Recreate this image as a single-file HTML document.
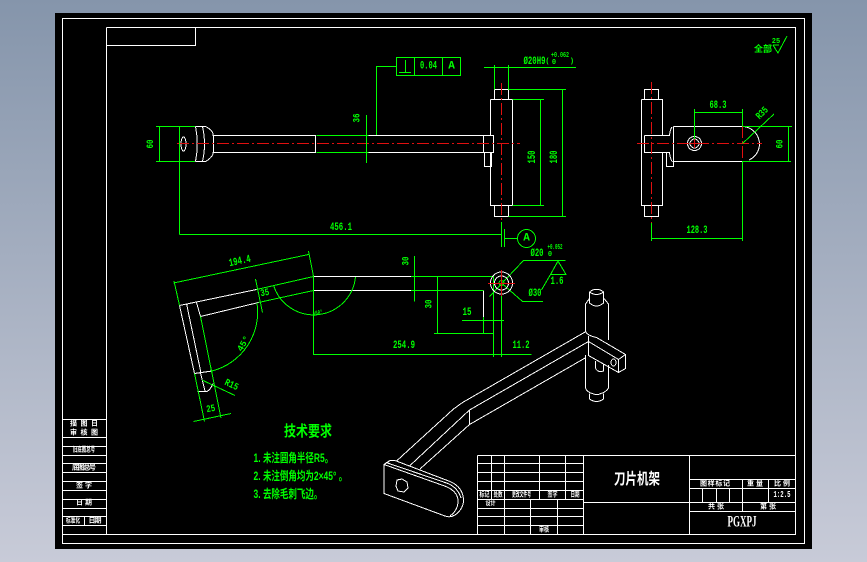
<!DOCTYPE html>
<html><head><meta charset="utf-8"><style>
html,body{margin:0;padding:0;width:867px;height:562px;overflow:hidden}
svg{display:block}
.w,.g,.r,.rs{fill:none;stroke-width:1;shape-rendering:crispEdges}
.w{stroke:#fff}.g{stroke:#0f0}.r{stroke:#e01010;stroke-dasharray:12 3 2 3}.rs{stroke:#e01010}
text{font-family:"Liberation Mono","Noto Sans CJK SC",monospace;text-anchor:middle;dominant-baseline:central}
.d{fill:#0f0;font-size:11px;font-weight:bold}
.s{fill:#0f0;font-size:7px;font-weight:bold}
.t{fill:#fff;font-family:"Liberation Sans","Noto Sans CJK SC",sans-serif;font-size:7px;font-weight:bold}
.c{fill:#0f0;font-family:"Liberation Sans","Noto Sans CJK SC",sans-serif;font-weight:bold;text-anchor:start}
</style></head><body>
<svg width="867" height="562" viewBox="0 0 867 562" xmlns="http://www.w3.org/2000/svg">
<defs><linearGradient id="bg" x1="0" y1="0" x2="0" y2="1"><stop offset="0" stop-color="#8595ab"/><stop offset="1" stop-color="#c8cbd8"/></linearGradient></defs>
<rect width="867" height="562" fill="url(#bg)"/>
<rect x="55" y="13" width="757" height="536" fill="#000"/>

<!-- frames -->
<path class="w" d="M62.5 18.5H804.5V543.5H62.5ZM106.5 27.5H795.5V534.5H62.5M106.5 27.5V534.5M106.5 45.5H195.5V27.5"/>
<!-- left table -->
<path class="w" d="M62.5 419.5H106.5M62.5 437.5H106.5M62.5 446.5H106.5M62.5 455.5H106.5M62.5 463.5H106.5M62.5 472.5H106.5M62.5 481.5H106.5M62.5 490.5H106.5M62.5 499.5H106.5M62.5 508.5H106.5M62.5 516.5H106.5M62.5 525.5H106.5M84.5 516.5V525.5"/>
<text class="t" x="84" y="424" textLength="28" lengthAdjust="spacing">描 图 日</text>
<text class="t" x="84" y="433" textLength="28" lengthAdjust="spacing">审 核 图</text>
<text class="t" x="84" y="450" textLength="22" lengthAdjust="spacingAndGlyphs">旧底图总号</text>
<text class="t" x="84" y="468" textLength="24" lengthAdjust="spacing">底图总号</text>
<text class="t" x="84" y="486">签 字</text>
<text class="t" x="84" y="503">日 期</text>
<text class="t" x="73" y="521" textLength="14" lengthAdjust="spacingAndGlyphs">标准化</text>
<text class="t" x="95" y="521" textLength="13" lengthAdjust="spacing">日期</text>

<!-- title block -->
<path class="w" d="M477.5 455.5H795.5M477.5 455.5V534.5M477.5 463.5H583.5M477.5 472.5H583.5M477.5 481.5H583.5M477.5 490.5H583.5M477.5 499.5H583.5M477.5 508.5H583.5M477.5 516.5H583.5M477.5 525.5H583.5M491.5 455.5V499.5M504.5 455.5V534.5M539.5 455.5V499.5M565.5 455.5V499.5M530.5 499.5V534.5M557.5 499.5V534.5M583.5 455.5V534.5M689.5 455.5V534.5M583.5 502.5H795.5M689.5 479.5H795.5M689.5 488.5H795.5M689.5 511.5H795.5M742.5 479.5V511.5M768.5 479.5V502.5M702.5 488.5V502.5M716.5 488.5V502.5M729.5 488.5V502.5"/>
<text class="t" x="484.5" y="495" textLength="10" lengthAdjust="spacingAndGlyphs">标记</text>
<text class="t" x="498" y="495" textLength="9" lengthAdjust="spacingAndGlyphs">处数</text>
<text class="t" x="521.5" y="495" textLength="19" lengthAdjust="spacingAndGlyphs">更改文件号</text>
<text class="t" x="552.5" y="495" textLength="10" lengthAdjust="spacingAndGlyphs">签字</text>
<text class="t" x="575" y="495" textLength="9" lengthAdjust="spacingAndGlyphs">日期</text>
<text class="t" x="490.5" y="503.5" textLength="10" lengthAdjust="spacingAndGlyphs">设计</text>
<text class="t" x="544" y="530" textLength="10" lengthAdjust="spacingAndGlyphs">审核</text>
<text class="t" x="715" y="484" textLength="30" lengthAdjust="spacing">图样标记</text>
<text class="t" x="755" y="484" textLength="16" lengthAdjust="spacing">重量</text>
<text class="t" x="782" y="484" textLength="16" lengthAdjust="spacing">比例</text>
<text class="t" x="782" y="495" style="font-family:'Liberation Mono';font-size:9px" textLength="17" lengthAdjust="spacingAndGlyphs">1:2.5</text>
<text class="t" x="716" y="507" textLength="16" lengthAdjust="spacing">共张</text>
<text class="t" x="768" y="507" textLength="16" lengthAdjust="spacing">第张</text>
<text transform="translate(637 479) scale(1 1.35)" fill="#fff" style="font-family:'Liberation Sans','Noto Sans CJK SC',sans-serif;font-size:11.5px;font-weight:bold">刀片机架</text>
<text x="742" y="522" fill="#fff" style="font-family:'Liberation Serif',serif;font-size:16px;font-weight:bold" textLength="29" lengthAdjust="spacingAndGlyphs">PGXPJ</text>

<!-- front view -->
<path class="w" d="M212.5 135.5H315.5V152.5H212.5M368.5 135.5H483.5M368.5 152.5H483.5M483.5 135.5H493.5V152.5H483.5ZM484.5 152.5V166.5H491.5V152.5M490.5 99.5H512.5V205.5H490.5V152.5M490.5 135.5V99.5M494.5 99.5V89.5H508.5V99.5M494.5 205.5V216.5H508.5V205.5"/>
<path class="w" d="M195.5 126.5H205.5Q213.5 130 213.5 137V151Q213.5 157 205.5 161.5H195.5M195.5 126.5Q199 144 195.5 161.5M202.5 126.5Q206.5 144 202.5 161.5"/>
<ellipse class="w" cx="183.5" cy="144" rx="2.5" ry="7"/>
<path class="g" d="M316.5 135.5H368.5M316.5 152.5H368.5"/>
<path class="r" d="M177 143.5H520M501.5 83V222"/>
<path class="g" d="M156 126.5H195M156 161.5H195M159.5 126.5V161.5M179.5 126.5V234.5M179.5 234.5H501.5M501.5 222V247M504.5 229V247M504.5 238.5H517.5M366.5 115V163M376.5 135V66.5H396.5M396.5 57.5H460.5V75.5H396.5ZM414.5 57.5V75.5M442.5 57.5V75.5M399 72.5H411M405.5 60V72.5M484 67.5H576M494.5 65V89.5M508.5 65V89.5M508.5 89.5H566M508.5 216.5H566M562.5 89.5V216.5M512.5 99.5H544M512.5 205.5H544M540.5 99.5V205.5"/>
<circle class="g" cx="526.5" cy="238.5" r="9"/>
<text class="s" x="151.5" y="144" transform="rotate(-90 151.5 144)" style="font-size:10px" textLength="9" lengthAdjust="spacingAndGlyphs">60</text>
<text class="s" x="358" y="118" transform="rotate(-90 358 118)" style="font-size:10px" textLength="9" lengthAdjust="spacingAndGlyphs">36</text>
<text class="d" x="428.5" y="66.5" textLength="17" lengthAdjust="spacingAndGlyphs">0.04</text>
<text class="d" x="451.5" y="66.5">A</text>
<text class="d" x="526.5" y="238.5">A</text>
<text class="d" x="341" y="228" textLength="22" lengthAdjust="spacingAndGlyphs">456.1</text>
<text class="d" x="533" y="157" transform="rotate(-90 533 157)" textLength="13" lengthAdjust="spacingAndGlyphs">150</text>
<text class="d" x="555" y="157" transform="rotate(-90 555 157)" textLength="13" lengthAdjust="spacingAndGlyphs">180</text>
<text class="d" x="534.5" y="62" textLength="22" lengthAdjust="spacingAndGlyphs">Ø20H9</text>
<text class="s" x="547.5" y="62">(</text>
<text class="s" x="572" y="62">)</text>
<text class="s" x="560" y="56" textLength="18" lengthAdjust="spacingAndGlyphs">+0.062</text>
<text class="s" x="554" y="63">0</text>

<!-- side view -->
<path class="w" d="M641.5 99.5H662.5V135.5M662.5 152.5V205.5H641.5V99.5M644.5 99.5V89.5H658.5V99.5M644.5 205.5V216.5H658.5V205.5M644.5 135.5H669.5Q670 130 672 127M644.5 135.5V152.5H669.5Q670 158 672 161.5M673.5 126.5H742.5M673.5 126.5V166.5H666.5V152.5M672.5 161.5H742.5"/>
<path class="w" d="M742.5 126.5A17.5 17.5 0 0 1 749 160"/>
<circle class="w" cx="694.5" cy="143.5" r="7"/>
<circle class="w" cx="694.5" cy="143.5" r="4.5"/>
<path class="r" d="M637 143.5H762M651.5 82V223M742.5 126V161"/>
<path class="rs" d="M690 143.5H699M694.5 139V148"/>
<path class="g" d="M694.5 139V109M694.5 112.5H742.5M742.5 109V126M742.5 161V241M651.5 223V241M651.5 238.5H742.5M742.5 143.5L774 114M742.5 126.5H792M742.5 161.5H791M788.5 126.5V161.5M773 45L778 53L787 36M773 45H779"/>
<text class="d" x="718" y="106" textLength="17" lengthAdjust="spacingAndGlyphs">68.3</text>
<text class="d" x="697" y="231" textLength="21" lengthAdjust="spacingAndGlyphs">128.3</text>
<text class="s" x="763" y="114" transform="rotate(-45 763 114)" style="font-size:10px" textLength="13" lengthAdjust="spacingAndGlyphs">R35</text>
<text class="s" x="781" y="144" transform="rotate(-90 781 144)" style="font-size:10px" textLength="9" lengthAdjust="spacingAndGlyphs">60</text>
<text class="s" x="763" y="49" style="font-family:'Liberation Sans','Noto Sans CJK SC',sans-serif;font-size:9px">全部</text>
<text class="s" x="776" y="42">25</text>

<!-- lower left view -->
<path class="w" d="M179.5 305.5L256.5 289.5M200.5 316.5L258.5 302.5M313.5 276.5H411M313.5 290.5H411M179.5 305.5L194.5 373.5M186.5 303.5L201 373M196.5 302.5L200.5 316.5M194.5 373.5L212 371M200.5 373L205 391M197.5 391.5H207Q211 389 213 383.5M483.5 290.5V317"/>
<path class="g" d="M256.5 289.5L313.5 276.5M258.5 302.5L313.5 290.5M200.5 316.5L221 418M194.5 373.5L204.5 421.5M193.5 421.5L231 413.5M174 281L179.5 305.5M308.5 251L313.5 276.5M173.5 283L308.5 254.5M255.5 279L262.5 312.5M202 380L235 395.5"/>
<path class="g" d="M257 303A61 61 0 0 1 212 371M273.5 285A42 42 0 0 0 355.5 277"/>
<path class="g" d="M313.5 276.5V355M313.5 354.5H531.5M411 276.5H492M411 290.5H483.5M414.5 256V301.5M437.5 276.5V333.5M434 333.5H493.5M462 320.5H504M483.5 317V333.5M493.5 276V357M501.5 292V357M489.5 296.5L523.5 260.5H565.5M501.5 283L522.5 301.5H543M558 261L550.5 274.5H566L558 261M550.5 274.5L541.5 290"/>
<circle class="w" cx="501.5" cy="283" r="11"/>
<circle class="w" cx="501.5" cy="283" r="7"/>
<circle class="g" cx="501.5" cy="283" r="2.5"/>
<path class="rs" d="M488 283.5H515M501.5 270V296"/>
<text class="d" x="240" y="262" transform="rotate(-12 240 262)" textLength="22" lengthAdjust="spacingAndGlyphs">194.4</text>
<text class="s" x="265" y="294" transform="rotate(-10 265 294)" style="font-size:10px" textLength="9" lengthAdjust="spacingAndGlyphs">35</text>
<text class="s" x="318" y="314" transform="rotate(-12 318 314)" textLength="10" lengthAdjust="spacingAndGlyphs">160°</text>
<text class="s" x="244" y="344" transform="rotate(-60 244 344)" style="font-size:9px">45°</text>
<text class="s" x="231" y="386" transform="rotate(25 231 386)" style="font-size:10px" textLength="14" lengthAdjust="spacingAndGlyphs">R15</text>
<text class="s" x="211" y="410" transform="rotate(-10 211 410)" style="font-size:10px" textLength="9" lengthAdjust="spacingAndGlyphs">25</text>
<text class="s" x="407" y="261" transform="rotate(-90 407 261)" style="font-size:10px" textLength="9" lengthAdjust="spacingAndGlyphs">30</text>
<text class="s" x="430" y="304" transform="rotate(-90 430 304)" style="font-size:10px" textLength="9" lengthAdjust="spacingAndGlyphs">30</text>
<text class="d" x="467" y="313" textLength="9" lengthAdjust="spacingAndGlyphs">15</text>
<text class="d" x="404" y="346" textLength="22" lengthAdjust="spacingAndGlyphs">254.9</text>
<text class="d" x="521" y="346" textLength="17" lengthAdjust="spacingAndGlyphs">11.2</text>
<text class="d" x="537" y="254" textLength="13" lengthAdjust="spacingAndGlyphs">Ø20</text>
<text class="s" x="555" y="248" textLength="15" lengthAdjust="spacingAndGlyphs">+0.052</text>
<text class="s" x="550" y="255">0</text>
<text class="d" x="535" y="294" textLength="13" lengthAdjust="spacingAndGlyphs">Ø30</text>
<text class="d" x="557" y="282" textLength="13" lengthAdjust="spacingAndGlyphs">1.6</text>

<!-- isometric view -->
<path class="w" d="M586 331.5L462.5 402.5L453.5 409L396.5 461M588.5 341.5L469.5 410L409.5 466M586 357.5L469.5 424.5L420 469M469.5 410V424.5M585.5 331.5Q588 336 596.5 337.5L625.5 354.5V368.5L618.5 372.5L588.5 355.5V336M588.5 341.5L618.5 359.5L625.5 354.5M618.5 359.5V372.5"/>
<ellipse class="w" cx="613.5" cy="362.5" rx="2.5" ry="3.5"/>
<path class="w" d="M585.5 331.5V304L589.5 298.5M608.5 340V304L604 298.5M589.5 292V303Q596.5 309 603.5 303V292M589.5 292Q596.5 286.5 603.5 292Q596.5 297 589.5 292M585.5 355V388Q587 392 592 393.5Q597 395.5 601 393.5Q606 392 608.5 388V365M589.5 393.5V399Q596.5 404 603.5 399V393.5M595.5 361V368Q597.5 373 603.5 371V364"/>
<path class="w" d="M384 464.5V493.5L445 516Q450 518 455 515Q463.5 509 463.5 500Q463 487 450 481.5L395 460.5H390L384 464.5ZM384 464.5L446 486.5Q459 492 458 503Q457 511 450 516M386 462.5L448 483.5Q458 488 461 498"/>
<path class="w" d="M397 480L402 479L407 482L408 488L404 492L398 491L396 486Z"/>

<!-- notes -->
<text class="c" transform="translate(284 431) scale(1 1.25)" font-size="12">技术要求</text>
<text class="c" transform="translate(253.5 459) scale(1 1.4)" font-size="8.5">1. 未注圆角半径R5。</text>
<text class="c" transform="translate(253.5 477) scale(1 1.4)" font-size="8.5">2. 未注倒角均为2×45° 。</text>
<text class="c" transform="translate(253.5 495) scale(1 1.4)" font-size="8.5">3. 去除毛刺飞边。</text>
</svg>
</body></html>
